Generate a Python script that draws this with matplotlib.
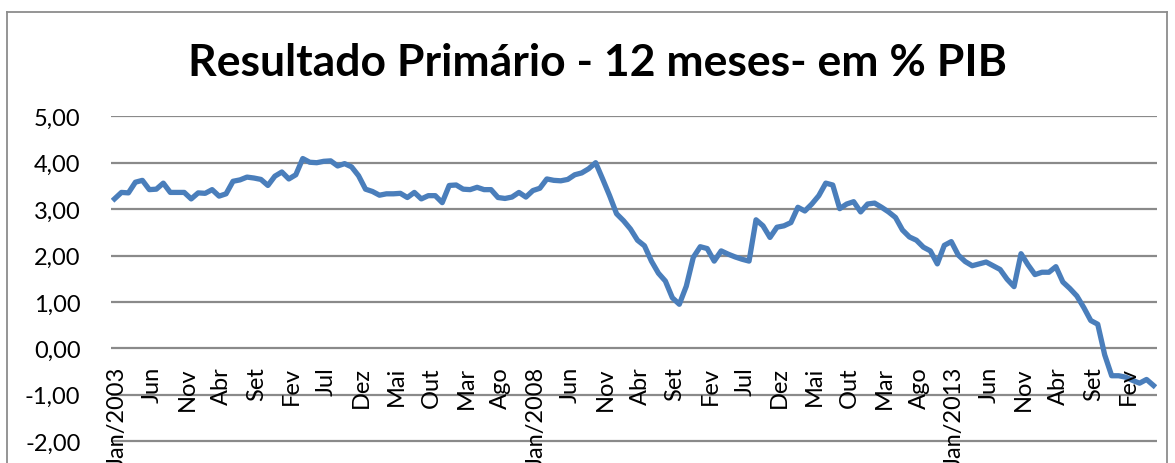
import matplotlib
matplotlib.use("Agg")
import matplotlib.pyplot as plt
from matplotlib.lines import Line2D

# monthly data, Jan/2003 .. Jun/2015
values = [3.22, 3.36, 3.35, 3.58, 3.62, 3.42, 3.43, 3.56, 3.36, 3.36,
          3.36, 3.22, 3.35, 3.34, 3.42, 3.28, 3.33, 3.60, 3.63, 3.69,
          3.67, 3.64, 3.51, 3.71, 3.80, 3.65, 3.74, 4.09, 4.01, 4.00,
          4.03, 4.04, 3.93, 3.98, 3.91, 3.72, 3.43, 3.38, 3.30, 3.33,
          3.33, 3.34, 3.25, 3.36, 3.22, 3.29, 3.29, 3.14, 3.51, 3.52,
          3.43, 3.42, 3.47, 3.42, 3.42, 3.25, 3.23, 3.26, 3.36, 3.26,
          3.40, 3.45, 3.65, 3.62, 3.61, 3.64, 3.74, 3.78, 3.87, 4.00,
          3.65, 3.29, 2.90, 2.75, 2.57, 2.33, 2.21, 1.88, 1.62, 1.45,
          1.09, 0.95, 1.34, 1.96, 2.19, 2.15, 1.88, 2.10, 2.03, 1.97,
          1.92, 1.88, 2.77, 2.64, 2.39, 2.61, 2.64, 2.71, 3.04, 2.96,
          3.11, 3.29, 3.56, 3.52, 3.01, 3.11, 3.16, 2.94, 3.11, 3.13,
          3.04, 2.94, 2.82, 2.55, 2.40, 2.33, 2.18, 2.10, 1.82, 2.22,
          2.30, 2.01, 1.87, 1.78, 1.82, 1.86, 1.78, 1.70, 1.49, 1.33,
          2.04, 1.80, 1.59, 1.64, 1.64, 1.76, 1.43, 1.29, 1.13, 0.88,
          0.60, 0.52, -0.14, -0.59, -0.59, -0.62, -0.69, -0.75, -0.67, -0.80]

months = ["Jan", "Fev", "Mar", "Abr", "Mai", "Jun",
          "Jul", "Ago", "Set", "Out", "Nov", "Dez"]
first_year = 2003
yticks = [-2, -1, 0, 1, 2, 3, 4, 5]
title = "Resultado Primário - 12 meses- em % PIB"

n = len(values)
x = list(range(n))
tick_pos = list(range(0, n, 5))
tick_labels = []
for i in tick_pos:
    m = months[i % 12]
    if i % 12 == 0:
        m = m + "/" + str(first_year + i // 12)
    tick_labels.append(m)

plt.rcParams["font.family"] = ["Lato", "DejaVu Sans"]

W, H = 1175, 464
fig = plt.figure(figsize=(W / 100, H / 100), dpi=100)

# chart border (cut at the bottom, like the reference)
bc = "#8c8c8c"
fig.add_artist(Line2D([7 / W, 7 / W], [0, 1 - 13 / H], color=bc, lw=1.3))
fig.add_artist(Line2D([7 / W, 1167 / W], [1 - 13 / H, 1 - 13 / H], color=bc, lw=1.3))
fig.add_artist(Line2D([1167 / W, 1167 / W], [0, 1 - 13 / H], color=bc, lw=1.3))

ax = fig.add_axes([111 / W, 0, 1046 / W, (H - 117.3) / H])
ax.set_xlim(-0.5, n - 0.5)
ax.set_ylim(-2.47, 5)
for s in ax.spines.values():
    s.set_visible(False)

for v in yticks:
    ax.axhline(v, color="#8a8a8a", lw=1.6, zorder=1)

ax.plot(x, values, color="#4A7EBB", lw=3.8, solid_joinstyle="round", zorder=3)

ax.set_yticks(yticks)
ax.set_yticklabels([("%.2f" % v).replace(".", ",") for v in yticks], fontsize=17)
ax.tick_params(axis="y", length=0, pad=22)
ax.set_xticks([])

for p, lab in zip(tick_pos, tick_labels):
    ax.text(p + 0.4, -0.38, lab, rotation=90, ha="center", va="top",
            fontsize=17, clip_on=False)

fig.text(597 / W, 1 - 63 / H, title, ha="center", va="center",
         fontsize=32, fontweight="bold")

fig.savefig("out.png", dpi=100)
